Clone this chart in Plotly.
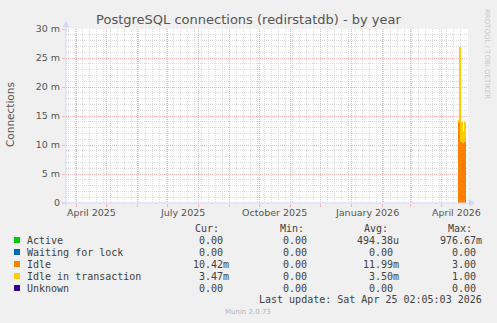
import plotly.graph_objects as go
import pandas as pd

# ---------------- data ----------------
days = ["2026-04-18", "2026-04-19", "2026-04-20", "2026-04-21",
        "2026-04-22", "2026-04-23", "2026-04-24"]
active = [0.00004, 0.00003, 0.00005, 0.00004, 0.00003, 0.00004, 0.00004]
waiting = [0, 0, 0, 0, 0, 0, 0]
idle = [0.0140, 0.0138, 0.0105, 0.0105, 0.0103, 0.0104, 0.0104]
idle_tx = [0.0003, 0.0130, 0.0035, 0.0035, 0.0020, 0.0010, 0.00347]
unknown = [0, 0, 0, 0, 0, 0, 0]

series_names = ["Active", "Waiting for lock", "Idle", "Idle in transaction", "Unknown"]
series_colors = ["#00CC00", "#0066B3", "#FF8000", "#FFCC00", "#330099"]
series_values = [active, waiting, idle, idle_tx, unknown]

cur_vals = ["0.00", "0.00", "10.42m", "3.47m", "0.00"]
min_vals = ["0.00", "0.00", "0.00", "0.00", "0.00"]
avg_vals = ["494.38u", "0.00", "11.99m", "3.50m", "0.00"]
max_vals = ["976.67m", "0.00", "3.00", "1.00", "0.00"]

y_tickvals = [0, 0.005, 0.010, 0.015, 0.020, 0.025, 0.030]
y_ticktext = ["0", "5 m", "10 m", "15 m", "20 m", "25 m", "30 m"]
x_label_dates = ["2025-04-16", "2025-07-16", "2025-10-16", "2026-01-16", "2026-04-16"]
x_label_text = ["April 2025", "July 2025", "October 2025", "January 2026", "April 2026"]
x_range = ["2025-03-22", "2026-04-27"]
month_starts = [d.strftime("%Y-%m-%d") for d in pd.date_range("2025-04-01", "2026-04-01", freq="MS")]

title = "PostgreSQL connections (redirstatdb) - by year"
last_update = "Last update: Sat Apr 25 02:05:03 2026"

# ---------------- geometry ----------------
W, H = 497, 323
L, R, T, B = 66, 468, 29, 203


def px(x):
    return (x - L) / (R - L)


def py(y):
    return (B - y) / (B - T)


TXT = "#555555"
LEG = "#404040"
AXIS = "#CFD6F8"
MGRID = "#F2B6B6"
GRID = "#DDDDDD"

fig = go.Figure()
DAY_MS = 86400000
for name, col, vals in zip(series_names, series_colors, series_values):
    fig.add_trace(go.Bar(
        x=days, y=vals, name=name, marker=dict(color=col, line=dict(width=0)),
        width=DAY_MS, offset=0, showlegend=False))

annotations = []
shapes = []

# x labels
for d, t in zip(x_label_dates, x_label_text):
    annotations.append(dict(x=d, xref="x", y=py(212), yref="paper", text=t, showarrow=False,
                            xanchor="center", yanchor="middle",
                            font=dict(family="DejaVu Sans", size=9.5, color=TXT)))

# y axis title
annotations.append(dict(x=px(10), y=py(115), xref="paper", yref="paper", text="Connections",
                        textangle=-90, showarrow=False, xanchor="center", yanchor="middle",
                        font=dict(family="DejaVu Sans", size=10.5, color=TXT)))

# rrdtool credit
annotations.append(dict(x=px(487), y=py(54), xref="paper", yref="paper",
                        text="RRDTOOL / TOBI OETIKER", textangle=90, showarrow=False,
                        xanchor="center", yanchor="middle",
                        font=dict(family="DejaVu Sans", size=7, color="#C8C8C8")))

MONO = "DejaVu Sans Mono"
FS = 10
CW = 6.0
# headers
for hx, ht in zip([194, 279, 363, 447], ["Cur:", "Min:", "Avg:", "Max:"]):
    annotations.append(dict(x=px(hx), y=py(228), xref="paper", yref="paper", text=ht,
                            showarrow=False, xanchor="left", yanchor="middle", borderpad=0,
                            font=dict(family=MONO, size=FS, color=LEG)))

row_y = [240, 252, 264, 276, 288]
col_right = [230, 314, 400, 483]
for i, (name, col) in enumerate(zip(series_names, series_colors)):
    yy = row_y[i]
    shapes.append(dict(type="rect", xref="paper", yref="paper",
                       x0=px(14), x1=px(20), y0=py(yy - 3), y1=py(yy + 3),
                       fillcolor=col, line=dict(width=0)))
    annotations.append(dict(x=px(26), y=py(yy), xref="paper", yref="paper", text=name,
                            showarrow=False, xanchor="left", yanchor="middle", borderpad=0,
                            font=dict(family=MONO, size=FS, color=LEG)))
    for cr, vals in zip(col_right, [cur_vals, min_vals, avg_vals, max_vals]):
        v = vals[i]
        xr = cr if v[-1].isalpha() else cr - CW
        annotations.append(dict(x=px(xr), y=py(yy), xref="paper", yref="paper", text=v,
                                showarrow=False, xanchor="right", yanchor="middle", borderpad=0,
                                font=dict(family=MONO, size=FS, color=LEG)))

annotations.append(dict(x=px(483), y=py(299), xref="paper", yref="paper", text=last_update,
                        showarrow=False, xanchor="right", yanchor="middle", borderpad=0,
                        font=dict(family=MONO, size=FS, color=LEG)))
annotations.append(dict(x=px(248), y=py(312), xref="paper", yref="paper", text="Munin 2.0.73",
                        showarrow=False, xanchor="center", yanchor="middle",
                        font=dict(family="DejaVu Sans", size=7, color="#B4B4B4")))

# axis lines and arrows
shapes.append(dict(type="line", xref="paper", yref="paper", x0=px(62), x1=px(470),
                   y0=py(203), y1=py(203), line=dict(color=AXIS, width=1)))
shapes.append(dict(type="line", xref="paper", yref="paper", x0=px(66), x1=px(66),
                   y0=py(206), y1=py(25), line=dict(color=AXIS, width=1)))
shapes.append(dict(type="path", xref="paper", yref="paper",
                   path=f"M {px(469)} {py(199.5)} L {px(475)} {py(203)} L {px(469)} {py(206.5)} Z",
                   fillcolor=AXIS, line=dict(width=0)))
shapes.append(dict(type="path", xref="paper", yref="paper",
                   path=f"M {px(62.5)} {py(27)} L {px(66)} {py(21)} L {px(69.5)} {py(27)} Z",
                   fillcolor=AXIS, line=dict(width=0)))

fig.update_layout(
    width=W, height=H,
    margin=dict(l=L, r=W - R, t=T, b=H - B, pad=0),
    paper_bgcolor="#F0F0F0", plot_bgcolor="#FFFFFF",
    barmode="stack", bargap=0,
    title=dict(text=title, x=0.5, xref="container", xanchor="center",
               y=1 - 19 / H, yref="container", yanchor="middle",
               font=dict(family="DejaVu Sans", size=13, color=TXT)),
    xaxis=dict(type="date", range=x_range, tickmode="array", tickvals=month_starts,
               showticklabels=False, ticks="outside", ticklen=3, tickcolor=MGRID,
               showgrid=True, gridcolor=MGRID, griddash="1px,1px", gridwidth=1,
               minor=dict(tickmode="linear", tick0="2025-03-24", dtick=7 * DAY_MS,
                          showgrid=True, gridcolor=GRID, griddash="1px,1px", ticks=""),
               zeroline=False, showline=False, fixedrange=True),
    yaxis=dict(range=[0, 0.030], tickmode="array", tickvals=y_tickvals, ticktext=y_ticktext,
               ticks="outside", ticklen=3, tickcolor=MGRID,
               tickfont=dict(family="DejaVu Sans", size=9.5, color=TXT),
               showgrid=True, gridcolor=MGRID, griddash="1px,1px", gridwidth=1,
               minor=dict(tickmode="linear", tick0=0, dtick=0.001, showgrid=True,
                          gridcolor=GRID, griddash="1px,1px", ticks=""),
               zeroline=False, showline=False, fixedrange=True),
    annotations=annotations, shapes=shapes,
)

fig.write_html("out.html")
